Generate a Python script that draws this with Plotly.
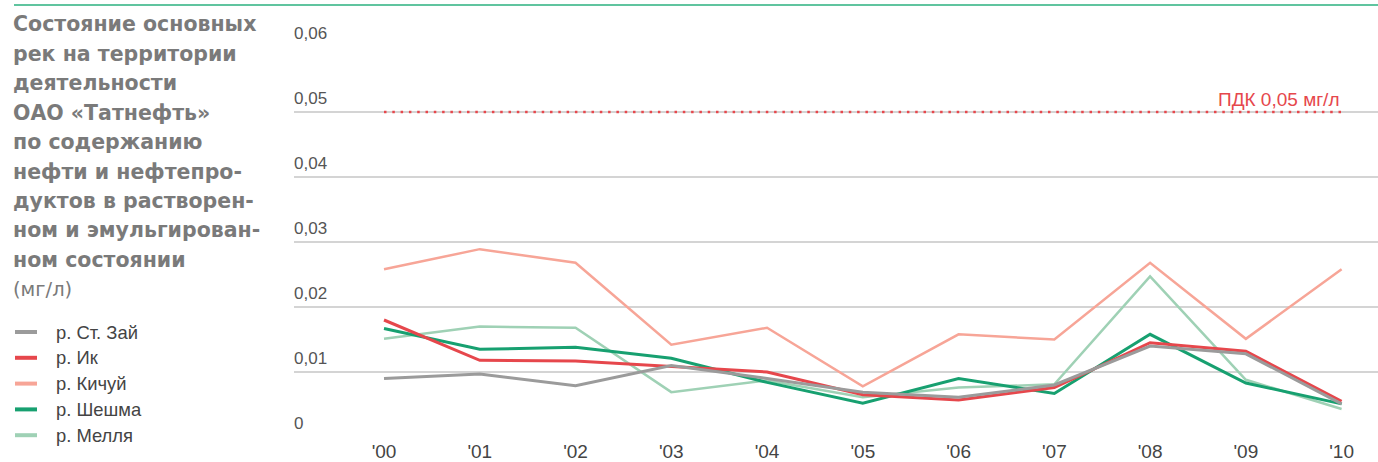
import plotly.graph_objects as go

# --- data (мг/л) ---
years = ["'00", "'01", "'02", "'03", "'04", "'05", "'06", "'07", "'08", "'09", "'10"]
st_zai = [0.0090, 0.0097, 0.0079, 0.0110, 0.0090, 0.0069, 0.0061, 0.0080, 0.0140, 0.0128, 0.0051]
ik = [0.0180, 0.0118, 0.0117, 0.0109, 0.0100, 0.0065, 0.0057, 0.0076, 0.0145, 0.0132, 0.0055]
kichuy = [0.0258, 0.0289, 0.0268, 0.0142, 0.0168, 0.0078, 0.0158, 0.0150, 0.0268, 0.0151, 0.0258]
sheshma = [0.0167, 0.0135, 0.0138, 0.0121, 0.0084, 0.0052, 0.0090, 0.0067, 0.0158, 0.0083, 0.0051]
mellya = [0.0151, 0.0170, 0.0168, 0.0069, 0.0087, 0.0061, 0.0076, 0.0081, 0.0247, 0.0088, 0.0043]
pdk = 0.05

y_ticks = [0, 0.01, 0.02, 0.03, 0.04, 0.05, 0.06]
y_ticktext = ["0", "0,01", "0,02", "0,03", "0,04", "0,05", "0,06"]

series = [
    ("р. Ст. Зай", st_zai, "#9b9b9b", 3),
    ("р. Ик", ik, "#e6474c", 3),
    ("р. Кичуй", kichuy, "#f7a597", 2.5),
    ("р. Шешма", sheshma, "#17a070", 3),
    ("р. Мелля", mellya, "#9fd1b5", 2.5),
]

title_lines = [
    "Состояние основных",
    "рек на территории",
    "деятельности",
    "ОАО «Татнефть»",
    "по содержанию",
    "нефти и нефтепро-",
    "дуктов в растворен-",
    "ном и эмульгирован-",
    "ном состоянии",
]

W, H = 1378, 462
L, R, T, B = 294, 0, 47, 25
FONT = "Liberation Sans, Arial, sans-serif"
TFONT = "DejaVu Sans, sans-serif"


def px_x(x):
    return (x - L) / (W - L - R)


def px_y(y):
    return (H - B - y) / (H - T - B)


fig = go.Figure()

# ПДК line
fig.add_trace(go.Scatter(
    x=[years[0], years[-1]], y=[pdk, pdk], mode='lines',
    line=dict(color='#e6474c', width=2.5, dash='2.5px,5.8px'),
    showlegend=False, hoverinfo='skip'
))

# draw in reverse so first series is on top like the reference
for name, vals, color, w in series[::-1]:
    fig.add_trace(go.Scatter(
        x=years, y=vals, mode='lines', name=name,
        line=dict(color=color, width=w),
        showlegend=False
    ))

# PDK label
fig.add_annotation(
    x=years[-1], y=pdk, xref='x', yref='y', text="ПДК 0,05 мг/л",
    showarrow=False, xanchor='right', yanchor='bottom', xshift=0, yshift=0,
    font=dict(family=FONT, size=19, color='#e6474c')
)

# y tick labels above the gridlines
for v, t in zip(y_ticks, y_ticktext):
    fig.add_annotation(
        x=px_x(292), y=v, xref='paper', yref='y', text=t,
        showarrow=False, xanchor='left', yanchor='middle', yshift=14,
        font=dict(family=FONT, size=17, color='#555555')
    )

# title on the left
for i, line in enumerate(title_lines):
    fig.add_annotation(
        x=px_x(11), y=px_y(24.5 + 29.4 * i), xref='paper', yref='paper',
        text="<b>" + line + "</b>", showarrow=False, xanchor='left', yanchor='middle',
        font=dict(family=TFONT, size=20.5, color='#7a7a7a')
    )
fig.add_annotation(
    x=px_x(11), y=px_y(24.5 + 29.4 * 9), xref='paper', yref='paper',
    text="(мг/л)", showarrow=False, xanchor='left', yanchor='middle',
    font=dict(family=TFONT, size=19.5, color='#7a7a7a')
)

# legend drawn by hand
for i, (name, vals, color, w) in enumerate(series):
    yc = 332 + 25.8 * i
    fig.add_shape(type='line', xref='paper', yref='paper',
                  x0=px_x(15), x1=px_x(37), y0=px_y(yc), y1=px_y(yc),
                  line=dict(color=color, width=4))
    fig.add_annotation(
        x=px_x(53.5), y=px_y(yc), xref='paper', yref='paper', text=name,
        showarrow=False, xanchor='left', yanchor='middle',
        font=dict(family=FONT, size=18.4, color='#444444')
    )

# green rule on top
fig.add_shape(type='line', xref='paper', yref='paper',
              x0=px_x(14), x1=1, y0=px_y(5), y1=px_y(5),
              line=dict(color='#2bb07f', width=1.5))

fig.update_xaxes(
    type='category', categoryorder='array', categoryarray=years,
    range=[-0.94, 10.38], showgrid=False, zeroline=False,
    showline=False, ticks='', ticklabelstandoff=1,
    tickfont=dict(family=FONT, size=19, color='#444444')
)
fig.update_yaxes(
    range=[0, 0.06], tickvals=y_ticks, showticklabels=False,
    showgrid=True, gridcolor='#d4d4d4', gridwidth=1.5, zeroline=False, showline=False,
    ticks=''
)

fig.update_layout(
    width=W, height=H,
    margin=dict(l=L, r=R, t=T, b=B),
    plot_bgcolor='white', paper_bgcolor='white',
    showlegend=False,
    font=dict(family=FONT)
)

fig.write_html("out.html", config={'displayModeBar': False},
               post_script="document.body.style.margin='0';")
